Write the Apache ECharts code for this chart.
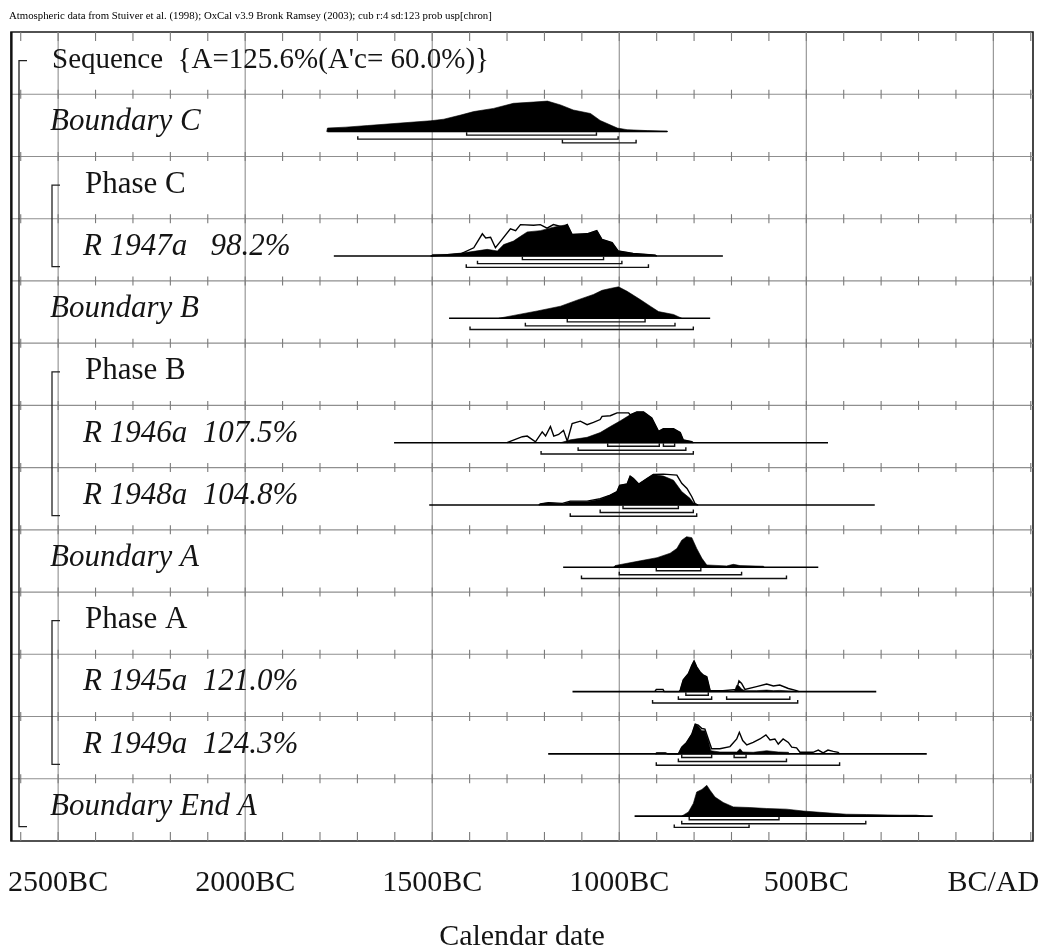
<!DOCTYPE html>
<html><head><meta charset="utf-8">
<script src="https://cdn.jsdelivr.net/npm/echarts@6/dist/echarts.min.js"></script>
<style>html,body{margin:0;padding:0;background:#fff}#c{width:1044px;height:949px}</style>
</head><body><div id="c"></div>
<script>
// ---------- text ----------
const headerText = "Atmospheric data from Stuiver et al. (1998); OxCal v3.9 Bronk Ramsey (2003); cub r:4 sd:123 prob usp[chron]";
const axisTitle = "Calendar date";
const xTickYears = [2500, 2000, 1500, 1000, 500, 0];           // years BC
const xTickLabels = ["2500BC", "2000BC", "1500BC", "1000BC", "500BC", "BC/AD"];
const minorTickYears = [2600,2500,2400,2300,2200,2100,2000,1900,1800,1700,1600,1500,1400,1300,1200,1100,1000,900,800,700,600,500,400,300,200,100,0,-100];

const rowLabels = ["Sequence  {A=125.6%(A'c= 60.0%)}", "Boundary C", "Phase C", "R 1947a   98.2%",
  "Boundary B", "Phase B", "R 1946a  107.5%", "R 1948a  104.8%", "Boundary A", "Phase A",
  "R 1945a  121.0%", "R 1949a  124.3%", "Boundary End A"];
const rowTypes = ["sequence", "boundary", "phase", "date", "boundary", "phase", "date", "date",
  "boundary", "phase", "date", "date", "boundary"];
// brackets: [first row, last row, depth]
const groups = [[0, 12, 0], [2, 3, 1], [5, 7, 1], [9, 11, 1]];

// ---------- distributions: [year BC, relative probability 0-100] ----------
const boundaryC_post = [[1782,0],[1780,11],[1731,14],[1673,19],[1584,27],[1504,34],[1469,39],[1424,52],[1389,63],[1336,73],[1283,89],[1229,93],[1192,96],[1157,84],[1123,68],[1077,57],[1051,35],[1005,11],[979,6],[925,3],[872,1],[870,0]];
const boundaryC_line = [1780, 872];
const boundaryC_ranges = [[1,1408,1061],[2,1699,1003],[3,1152,955]];

const r1947a_post = [[1504,0],[1499,5],[1459,5],[1416,10],[1353,21],[1326,16],[1309,36],[1283,47],[1264,62],[1246,76],[1211,80],[1176,91],[1139,99],[1126,68],[1086,70],[1060,80],[1046,52],[1019,42],[1003,16],[963,8],[904,3],[900,0]];
const r1947a_like = [[1504,0],[1424,7],[1389,26],[1366,70],[1357,57],[1344,59],[1331,26],[1317,47],[1291,86],[1277,80],[1264,99],[1229,97],[1211,99],[1193,88],[1176,99],[1149,91],[1139,99],[1126,68],[1086,70],[1060,80],[1046,52],[1019,42],[1003,16],[963,8],[904,3],[900,0]];
const r1947a_line = [1763, 723];
const r1947a_ranges = [[1,1259,1042],[2,1379,993],[3,1409,922]];

const boundaryB_post = [[1322,0],[1282,9],[1219,23],[1157,38],[1113,57],[1069,75],[1046,88],[1024,94],[1002,99],[979,85],[944,59],[917,38],[895,21],[855,12],[833,0]];
const boundaryB_line = [1455, 757];
const boundaryB_ranges = [[1,1139,931],[2,1251,851],[3,1399,802]];

const r1946a_post = [[1157,0],[1131,9],[1086,17],[1051,32],[1024,51],[997,69],[971,88],[953,97],[935,97],[913,78],[895,36],[882,44],[855,44],[837,32],[829,9],[806,3],[802,0]];
const r1946a_like = [[1300,0],[1295,3],[1259,19],[1246,21],[1224,3],[1206,34],[1197,21],[1184,51],[1175,21],[1162,26],[1149,39],[1139,5],[1126,60],[1104,68],[1086,57],[1069,64],[1051,73],[1046,83],[1024,85],[1006,94],[975,94],[971,88],[953,97],[935,97],[913,78],[895,36],[882,44],[855,44],[837,32],[829,9],[806,3],[802,0]];
const r1946a_line = [1602, 442];
const r1946a_ranges = [[1,1031,893],[1,882,852],[2,1110,822],[3,1209,802]];

const r1948a_post = [[1215,0],[1211,3],[1189,7],[1152,3],[1131,10],[1086,10],[1051,18],[1024,31],[1006,42],[999,62],[979,66],[971,91],[962,83],[948,66],[926,83],[909,96],[882,91],[855,78],[833,42],[811,21],[802,7],[789,0]];
const r1948a_like = [[1215,0],[1211,3],[1189,7],[1152,5],[1131,12],[1086,12],[1051,20],[1024,31],[1006,42],[999,62],[979,66],[971,91],[962,83],[948,66],[926,83],[909,96],[882,97],[846,94],[833,68],[819,52],[806,26],[797,3],[790,0]];
const r1948a_line = [1508, 317];
const r1948a_ranges = [[1,990,842],[2,1051,802],[3,1131,793]];

const boundaryA_post = [[1015,0],[1011,5],[1003,7],[944,20],[899,30],[864,44],[846,59],[833,85],[820,96],[806,93],[793,59],[779,28],[766,7],[713,4],[695,9],[677,5],[615,3],[612,0]];
const boundaryA_line = [1150, 468];
const boundaryA_ranges = [[1,901,782],[2,1000,673],[3,1101,553]];

const r1945a_post = [[840,0],[837,5],[829,37],[815,57],[806,83],[800,97],[793,78],[784,62],[775,52],[766,47],[757,3],[723,1],[692,2],[686,20],[680,18],[673,8],[664,3],[633,3],[606,5],[588,3],[571,4],[548,2],[526,0]];
const r1945a_like = [[905,0],[901,7],[883,7],[880,0],[840,0],[837,5],[829,37],[815,57],[806,83],[800,97],[793,78],[784,62],[775,52],[766,47],[757,3],[723,3],[686,7],[680,34],[673,26],[664,7],[633,16],[606,24],[588,18],[571,21],[548,10],[526,3],[520,0]];
const r1945a_line = [1125, 313];
const r1945a_ranges = [[1,822,762],[2,842,753],[2,713,544],[3,911,523]];

const r1949a_post = [[903,0],[900,3],[877,3],[870,0],[842,0],[833,21],[820,36],[806,62],[797,94],[789,88],[779,73],[771,73],[762,42],[755,10],[731,6],[686,6],[677,16],[670,6],[642,5],[606,10],[575,6],[548,5],[544,0]];
const r1949a_like = [[903,0],[900,3],[877,3],[870,0],[842,0],[833,21],[820,36],[806,62],[797,94],[789,91],[779,80],[771,78],[762,47],[753,16],[731,16],[704,23],[686,47],[679,68],[670,42],[659,28],[642,36],[624,47],[608,60],[597,44],[584,47],[575,31],[562,47],[548,36],[539,21],[526,19],[517,5],[482,5],[468,12],[455,3],[442,12],[428,8],[415,5],[411,0]];
const r1949a_line = [1190, 178];
const r1949a_ranges = [[1,833,753],[1,693,661],[2,842,553],[3,901,411]];

const boundaryEndA_post = [[833,0],[829,3],[815,13],[802,40],[793,76],[779,84],[766,97],[757,81],[744,60],[722,43],[695,29],[651,27],[606,24],[553,22],[508,16],[464,12],[393,6],[339,5],[251,3],[206,3],[184,0]];
const boundaryEndA_line = [959, 162];
const boundaryEndA_ranges = [[1,813,573],[2,833,341],[3,853,653]];

// table per row (built from the arrays above)
const rows = [
  {},
  {post: boundaryC_post, line: boundaryC_line, ranges: boundaryC_ranges},
  {},
  {post: r1947a_post, like: r1947a_like, line: r1947a_line, ranges: r1947a_ranges},
  {post: boundaryB_post, line: boundaryB_line, ranges: boundaryB_ranges},
  {},
  {post: r1946a_post, like: r1946a_like, line: r1946a_line, ranges: r1946a_ranges},
  {post: r1948a_post, like: r1948a_like, line: r1948a_line, ranges: r1948a_ranges},
  {post: boundaryA_post, line: boundaryA_line, ranges: boundaryA_ranges},
  {},
  {post: r1945a_post, like: r1945a_like, line: r1945a_line, ranges: r1945a_ranges},
  {post: r1949a_post, like: r1949a_like, line: r1949a_line, ranges: r1949a_ranges},
  {post: boundaryEndA_post, line: boundaryEndA_line, ranges: boundaryEndA_ranges}
];

// ---------- layout constants ----------
const X_MIN = -2626, X_MAX = 106, N_ROWS = 13;
const BASE = 0.6;       // baseline offset inside a row (row units)
const PEAK = 0.51;      // height of 100% (row units)
const FONT = '"Liberation Serif", "Times New Roman", serif';
const INK = '#141414';

const chart = echarts.init(document.getElementById('c'), null, {renderer: 'canvas'});
const rowData = rows.map((r, i) => [0, i]);

function frameRender(params, api) {
  const ch = [];
  const gridStroke = {stroke: '#8f8f8f', lineWidth: 1.1};
  xTickYears.forEach(y => {
    const a = api.coord([-y, 0]), b = api.coord([-y, N_ROWS]);
    ch.push({type: 'line', shape: {x1: a[0], y1: a[1], x2: b[0], y2: b[1]}, style: gridStroke});
  });
  for (let r = 1; r < N_ROWS; r++) {
    const a = api.coord([X_MIN, r]), b = api.coord([X_MAX, r]);
    ch.push({type: 'line', shape: {x1: a[0], y1: a[1], x2: b[0], y2: b[1]}, style: gridStroke});
  }
  const tickStroke = {stroke: '#7a7a7a', lineWidth: 1.1};
  for (let r = 0; r <= N_ROWS; r++) {
    minorTickYears.forEach(y => {
      const p = api.coord([-y, r]);
      let y1 = p[1] - 4.5, y2 = p[1] + 4.5;
      if (r === 0) { y1 = p[1]; y2 = p[1] + 9; }
      if (r === N_ROWS) { y1 = p[1] - 9; y2 = p[1]; }
      ch.push({type: 'line', shape: {x1: p[0], y1: y1, x2: p[0], y2: y2}, style: tickStroke});
    });
  }
  // heavier left edge of the frame
  const tl = api.coord([X_MIN, 0]), bl = api.coord([X_MIN, N_ROWS]);
  ch.push({type: 'line', shape: {x1: tl[0] + 0.5, y1: tl[1], x2: bl[0] + 0.5, y2: bl[1]}, style: {stroke: '#111', lineWidth: 2.2}});
  return {type: 'group', children: ch};
}

function bracketRender(params, api) {
  const ch = [];
  const left = api.coord([X_MIN, 0])[0];
  groups.forEach(g => {
    const x = left + (g[2] === 0 ? 8 : 41);
    const y1 = api.coord([0, g[0] + 0.46])[1];
    const y2 = api.coord([0, g[1] + 0.77])[1];
    ch.push({type: 'polyline', shape: {points: [[x + 8, y1], [x, y1], [x, y2], [x + 8, y2]]},
      style: {stroke: '#222', lineWidth: 1.3, fill: null}});
  });
  return {type: 'group', children: ch};
}

function distRender(key, filled) {
  return function (params, api) {
    const i = params.dataIndex;
    const d = rows[i][key];
    if (!d) return null;
    const base = i + BASE;
    const pts = d.map(p => api.coord([-p[0], base - p[1] / 100 * PEAK]));
    if (filled) {
      const first = api.coord([-d[0][0], base]);
      const last = api.coord([-d[d.length - 1][0], base]);
      return {type: 'polygon', shape: {points: [first].concat(pts, [last])},
        style: {fill: '#000', stroke: '#000', lineWidth: 0.6}};
    }
    return {type: 'polyline', shape: {points: pts}, style: {fill: null, stroke: '#000', lineWidth: 1.4}};
  };
}

function lineRender(params, api) {
  const i = params.dataIndex;
  const r = rows[i];
  if (!r.line) return null;
  const ch = [];
  const a = api.coord([-r.line[0], i + BASE]), b = api.coord([-r.line[1], i + BASE]);
  ch.push({type: 'line', shape: {x1: a[0], y1: a[1], x2: b[0], y2: b[1]}, style: {stroke: '#000', lineWidth: 1.6}});
  const off = [0, 3.6, 7.6, 11.3];
  r.ranges.forEach(s => {
    const p = api.coord([-s[1], i + BASE]), q = api.coord([-s[2], i + BASE]);
    const yy = p[1] + off[s[0]];
    ch.push({type: 'polyline', shape: {points: [[p[0], yy - 3], [p[0], yy], [q[0], yy], [q[0], yy - 3]]},
      style: {stroke: '#111', lineWidth: 1.4, fill: null}});
  });
  return {type: 'group', children: ch};
}

function labelRender(params, api) {
  const i = params.dataIndex;
  const t = rowTypes[i];
  const left = api.coord([X_MIN, 0])[0];
  const indent = {sequence: 41, boundary: 39, phase: 74, date: 72}[t];
  const size = {sequence: 29, boundary: 31, phase: 31, date: 31}[t];
  const italic = (t === 'boundary' || t === 'date');
  const y = api.coord([0, i + 0.45])[1];
  return {type: 'text', x: left + indent, y: y,
    style: {text: rowLabels[i], fill: INK, fontFamily: FONT, fontSize: size,
      fontStyle: italic ? 'italic' : 'normal', align: 'left', verticalAlign: 'middle'}};
}

function customSeries(render, data, z) {
  return {type: 'custom', coordinateSystem: 'cartesian2d', renderItem: render, data: data,
    encode: {x: 0, y: 1}, silent: true, animation: false, z: z};
}

chart.setOption({
  animation: false,
  backgroundColor: '#fff',
  title: {text: headerText, left: 4, top: 6,
    textStyle: {fontFamily: FONT, fontSize: 10.8, fontWeight: 'normal', color: '#000'}},
  grid: {left: 11, right: 11, top: 32, bottom: 108, show: true, borderColor: '#1a1a1a', borderWidth: 1.6,
    backgroundColor: 'transparent', outerBoundsMode: 'none', containLabel: false},
  xAxis: {type: 'value', min: X_MIN, max: X_MAX,
    axisLine: {show: false}, axisTick: {show: false}, splitLine: {show: false},
    axisLabel: {customValues: xTickYears.map(v => -v),
      formatter: v => xTickLabels[xTickYears.indexOf(-v)] || '',
      fontFamily: FONT, fontSize: 30, color: INK, margin: 27},
    name: axisTitle, nameLocation: 'middle', nameGap: 81,
    nameTextStyle: {fontFamily: FONT, fontSize: 30, color: INK}},
  yAxis: {type: 'value', min: 0, max: N_ROWS, inverse: true, show: false},
  series: [
    customSeries(frameRender, [[0, 0]], 1),
    customSeries(bracketRender, [[0, 0]], 2),
    customSeries(distRender('post', true), rowData, 3),
    customSeries(distRender('like', false), rowData, 4),
    customSeries(lineRender, rowData, 5),
    customSeries(labelRender, rowData, 6)
  ]
});
</script></body></html>
